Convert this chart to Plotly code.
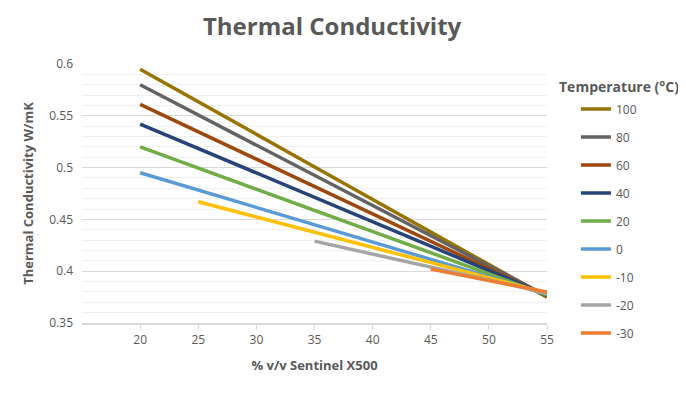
import plotly.graph_objects as go

temps = ["100", "80", "60", "40", "20", "0", "-10", "-20", "-30"]
x_start = [20, 20, 20, 20, 20, 20, 25, 35, 45]
x_end = [55, 55, 55, 55, 55, 55, 55, 55, 55]
y_start = [0.595, 0.580, 0.561, 0.542, 0.520, 0.495, 0.467, 0.429, 0.402]
y_end = [0.375, 0.376, 0.376, 0.377, 0.377, 0.378, 0.379, 0.379, 0.380]
colors = ["#997300", "#636363", "#9E480E", "#264478", "#70AD47",
          "#5B9BD5", "#FFC000", "#A5A5A5", "#ED7D31"]

fig = go.Figure()
for i, t in enumerate(temps):
    fig.add_trace(go.Scatter(
        x=[x_start[i], x_end[i]], y=[y_start[i], y_end[i]],
        mode="lines", name=t, legendgroup=t,
        line=dict(color=colors[i], width=3.5),
    ))

grey = "#595959"
W, H = 678, 388
fig.update_layout(
    width=W, height=H,
    margin=dict(l=74, r=139, t=56, b=73, autoexpand=False),
    paper_bgcolor="white", plot_bgcolor="white",
    font=dict(family="Open Sans, DejaVu Sans, sans-serif", color=grey),
    title=dict(text="<b>Thermal Conductivity</b>", x=0.478, xanchor="center",
               y=(H - 19) / H, yanchor="middle", font=dict(size=24, color=grey)),
    xaxis=dict(range=[15, 55], tickvals=[20, 25, 30, 35, 40, 45, 50, 55],
               showgrid=False, zeroline=False, showline=True, linecolor="#D9D9D9",
               linewidth=1.5, ticks="outside", ticklen=5, tickcolor="#D9D9D9",
               tickfont=dict(size=12, color=grey),
               title=dict(text="<b>% v/v Sentinel X500</b>", font=dict(size=13, color=grey),
                          standoff=14)),
    yaxis=dict(range=[0.35, 0.6], tickvals=[0.35, 0.4, 0.45, 0.5, 0.55, 0.6],
               ticktext=["0.35", "0.4", "0.45", "0.5", "0.55", "0.6"],
               showgrid=True, gridcolor="#D9D9D9", gridwidth=1.2, zeroline=False,
               tickfont=dict(size=12, color=grey), ticklabelstandoff=8,
               minor=dict(dtick=0.01, showgrid=True, gridcolor="#F0F0F0", gridwidth=1),
               title=dict(text="<b>Thermal Conductivity W/mK</b>", font=dict(size=13, color=grey),
                          standoff=12)),
    legend=dict(x=1.045 + 8 / 465, xanchor="left", y=0.875 + 2 / 259, yanchor="top",
                traceorder="grouped", tracegroupgap=9,
                font=dict(size=12, color=grey), itemwidth=30,
                bgcolor="rgba(0,0,0,0)"),
    showlegend=True,
)
fig.add_annotation(text="<b>Temperature (°C)</b>", xref="paper", yref="paper",
                   x=(557 - 82) / 465, xanchor="left", y=(323 - 86) / 259, yanchor="middle",
                   showarrow=False, font=dict(size=14, color=grey))

fig.write_html("out.html")
